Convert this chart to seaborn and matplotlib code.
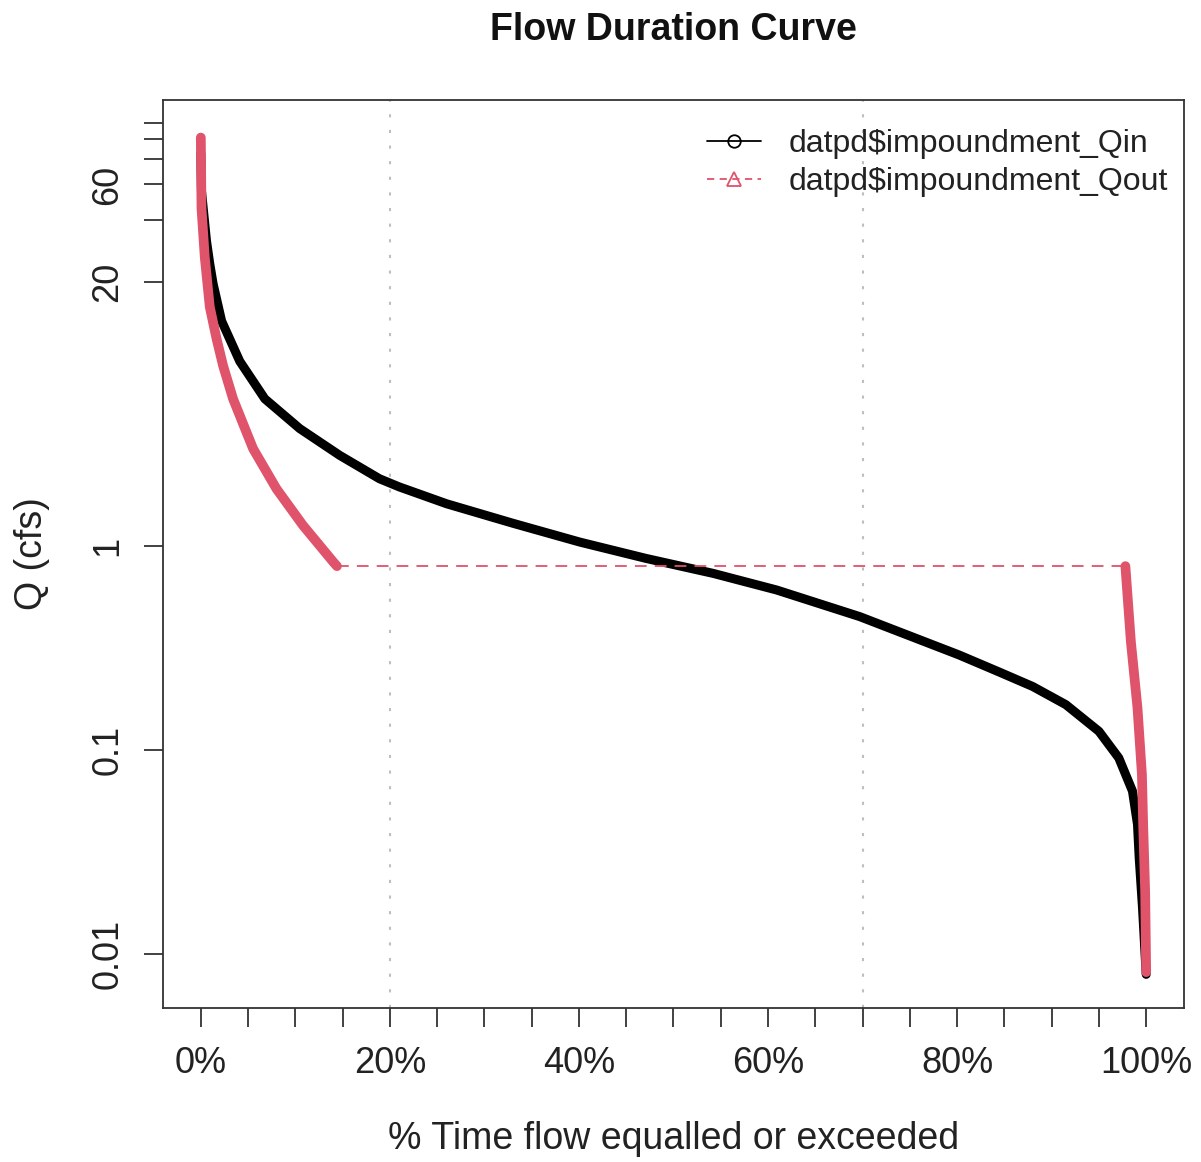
# Flow duration curve: impoundment inflow vs outflow
import pandas as pd
import matplotlib.pyplot as plt
import seaborn as sns
from matplotlib.lines import Line2D

# Data (fraction of time exceeded, flow in cfs)
qin_pct = [0.0, 0.0007, 0.006, 0.0095, 0.013, 0.022, 0.0412, 0.0677, 0.1047, 0.147,
           0.189, 0.210, 0.260, 0.330, 0.401, 0.471, 0.542, 0.609, 0.697, 0.802,
           0.845, 0.880, 0.915, 0.950, 0.971, 0.9855, 0.9908, 0.9926, 0.9961, 1.0]
qin_val = [85, 55.8, 31.7, 24.4, 19.5, 12.8, 8.12, 5.31, 3.79, 2.80,
           2.15, 1.96, 1.62, 1.30, 1.05, 0.873, 0.737, 0.611, 0.452, 0.293,
           0.241, 0.205, 0.167, 0.1235, 0.0914, 0.0628, 0.0431, 0.0296, 0.0168, 0.0079]

qout_head_pct = [0.0, 0.0007, 0.0042, 0.0095, 0.0166, 0.0236, 0.0341, 0.0553,
                 0.080, 0.108, 0.140, 0.144]
qout_head_val = [102, 46, 26.3, 15.0, 10.5, 7.71, 5.31, 3.02,
                 1.92, 1.27, 0.84, 0.80]
qout_tail_pct = [0.978, 0.9838, 0.9908, 0.9955, 0.9968, 0.9989, 1.0]
qout_tail_val = [0.80, 0.341, 0.161, 0.0757, 0.0431, 0.0203, 0.0081]

y_ticks = [0.01, 0.1, 1, 20, 40, 60, 80, 100, 120]
y_labels = ["0.01", "0.1", "1", "20", "", "60", "", "", ""]
x_ticks = [i * 0.05 for i in range(21)]
x_labels = [f"{int(round(t * 100))}%" if round(t * 100) % 20 == 0 else "" for t in x_ticks]
grid_x = [0.2, 0.7]

qin = pd.DataFrame({"pct": qin_pct, "q": qin_val})
qout_head = pd.DataFrame({"pct": qout_head_pct, "q": qout_head_val})
qout_tail = pd.DataFrame({"pct": qout_tail_pct, "q": qout_tail_val})
qout_flat = pd.DataFrame({"pct": [qout_head_pct[-1], qout_tail_pct[0]],
                          "q": [qout_head_val[-1], qout_tail_val[0]]})

sns.set_style("white")
plt.rcParams["font.family"] = ["Liberation Sans", "DejaVu Sans"]

red = "#DF536B"
fig = plt.figure(figsize=(12.01, 11.62), dpi=100)
ax = fig.add_axes([163 / 1201, 1 - 1008 / 1162, 1021 / 1201, 908 / 1162])

# vertical dotted reference lines
for gx in grid_x:
    ax.axvline(gx, color="#BEBEBE", lw=1.5, dashes=(1.5, 6), zorder=0)

# the curves
sns.lineplot(data=qin, x="pct", y="q", ax=ax, color="black", lw=6.5,
             estimator=None, solid_capstyle="round", solid_joinstyle="round")
sns.lineplot(data=qout_flat, x="pct", y="q", ax=ax, color=red, lw=1.3,
             estimator=None)
ax.lines[-1].set_dashes((6.5, 4.5))
sns.lineplot(data=qout_head, x="pct", y="q", ax=ax, color=red, lw=7,
             estimator=None, solid_capstyle="round", solid_joinstyle="round")
sns.lineplot(data=qout_tail, x="pct", y="q", ax=ax, color=red, lw=7,
             estimator=None, solid_capstyle="round", solid_joinstyle="round")

ax.set_yscale("log")
ax.set_xlim(-0.04, 1.04)
ax.set_ylim(0.0054, 156)
ax.set_xticks(x_ticks)
ax.set_xticklabels(x_labels, fontsize=26)
ax.set_yticks(y_ticks)
ax.set_yticklabels(y_labels, fontsize=26, rotation=90, va="center")
ax.minorticks_off()
ax.tick_params(axis="both", bottom=True, left=True, direction="out", length=14,
               width=1.3, color="#333333", labelcolor="#222222")
ax.tick_params(axis="x", pad=13.5)
ax.tick_params(axis="y", pad=13)
for s in ax.spines.values():
    s.set_visible(True)
    s.set_color("#333333")
    s.set_linewidth(1.3)

ax.set_xlabel("% Time flow equalled or exceeded", fontsize=27, labelpad=29, color="#222222")
ax.set_ylabel("Q (cfs)", fontsize=27, labelpad=29, color="#222222")
fig.text(673.5 / 1201, 1 - 40 / 1162, "Flow Duration Curve", ha="center", va="baseline",
         fontsize=27, fontweight="bold", color="#111111")

handles = [Line2D([], [], color="black", lw=1.3, marker="o", mfc="none", ms=9, mew=1.3),
           Line2D([], [], color=red, lw=1.3, dashes=(4, 3), marker="^", mfc="none", ms=10, mew=1.3)]
ax.legend(handles, ["datpd$impoundment_Qin", "datpd$impoundment_Qout"],
          loc="upper right", bbox_to_anchor=(0.984, 0.968), frameon=False,
          fontsize=23, handlelength=1.7, handletextpad=0.85, labelspacing=0.25,
          borderaxespad=0, borderpad=0, labelcolor="#222222")

fig.savefig("out.png", dpi=100)
